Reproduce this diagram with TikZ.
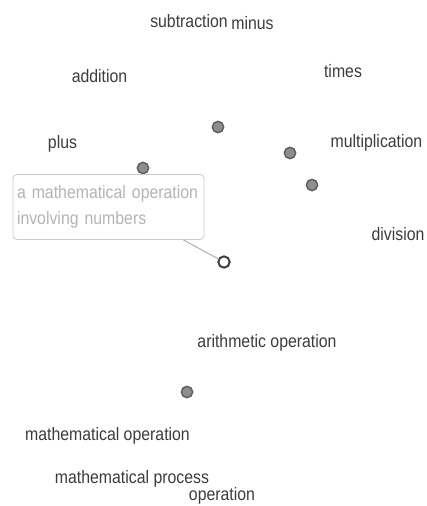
\documentclass[tikz,border=0pt]{standalone}
\usepackage{fontspec}
\setmainfont{Liberation Sans}[FakeStretch=0.88]
\definecolor{lbltext}{HTML}{3C3C3C}
\definecolor{dotfill}{HTML}{8E8E8E}
\definecolor{dotedge}{HTML}{5E5E5E}
\definecolor{tiptext}{HTML}{B4B4B4}
\definecolor{tipedge}{HTML}{CACACA}
\begin{document}
\begin{tikzpicture}[x=0.75pt,y=-0.75pt,
  lbl/.style={text=lbltext, font=\fontsize{13.5}{16}\selectfont, inner sep=0pt, anchor=base},
  dot/.style={circle, draw=dotedge, fill=dotfill, line width=1.1pt, minimum size=8.5pt, inner sep=0pt},
  hdot/.style={circle, draw=black!75, fill=white, line width=1.5pt, minimum size=8.5pt, inner sep=0pt},
  tipbox/.style={draw=tipedge, rounded corners=3pt, fill=white, text=tiptext,
    font=\fontsize{13.5}{19.5}\selectfont, align=left, text width=137.25pt, inner xsep=3pt,
    minimum height=48.75pt, line width=0.6pt},
  link/.style={draw=black!30, line width=0.8pt}]
\useasboundingbox (0,0) rectangle (426,506);
% labels
\node[lbl] (subtraction) at (189,28) {subtraction};
\node[lbl] (minus) at (252.5,30) {minus};
\node[lbl] (addition) at (99.5,83) {addition};
\node[lbl] (times) at (343,78) {times};
\node[lbl] (plus) at (62.5,148) {plus};
\node[lbl] (multiplication) at (376.5,147) {multiplication};
\node[lbl] (division) at (398,240) {division};
\node[lbl] (arith) at (267,347) {arithmetic operation};
\node[lbl] (mathop) at (107.5,440) {mathematical operation};
\node[lbl] (mathproc) at (132,483) {mathematical process};
\node[lbl] (operation) at (222,500) {operation};
% dots
\node[dot] (d1) at (218,127) {};
\node[dot] (d2) at (290,153) {};
\node[dot] (d3) at (312,185) {};
\node[dot] (d4) at (143,168) {};
\node[dot] (d5) at (187,392) {};
\node[hdot] (hollow) at (224,262) {};
% tooltip
\node[tipbox] (tip) at (108.5,207) {a mathematical operation\\involving numbers};
\coordinate (tipanchor) at ([xshift=-15.75pt]tip.south east);
\draw[link] (tipanchor) -- (hollow);
\end{tikzpicture}
\end{document}
